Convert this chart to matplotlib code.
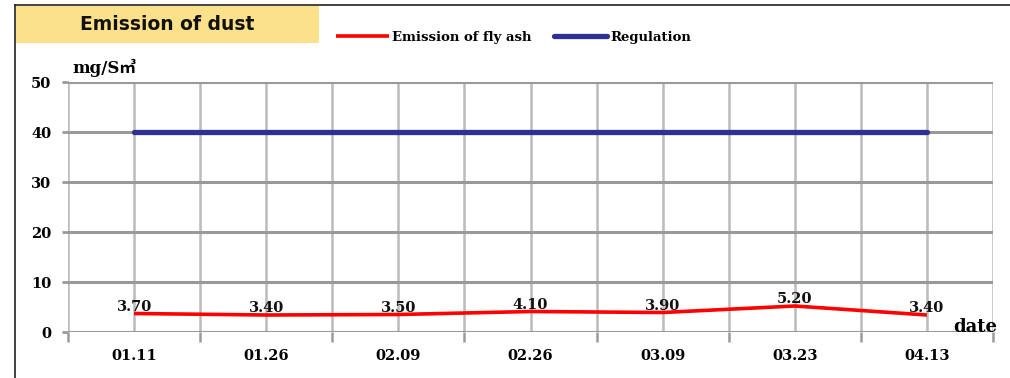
import matplotlib.pyplot as plt
from matplotlib.lines import Line2D
from matplotlib.patches import Rectangle

# measurement dates and values
dates = ["01.11", "01.26", "02.09", "02.26", "03.09", "03.23", "04.13"]
fly_ash = [3.70, 3.40, 3.50, 4.10, 3.90, 5.20, 3.40]
regulation = [40, 40, 40, 40, 40, 40, 40]
y_ticks = [0, 10, 20, 30, 40, 50]

serif = ["DejaVu Serif", "Noto Sans CJK KR"]

fig = plt.figure(figsize=(10.1, 3.78), dpi=100)
ax = fig.add_axes([68 / 1010, 1 - 332 / 378, 925 / 1010, 250 / 378])

x = list(range(len(dates)))
ax.plot(x, fly_ash, color="#ff0000", lw=2.6, solid_capstyle="butt",
        label="Emission of fly ash", zorder=4)
ax.plot(x, regulation, color="#2e3192", lw=3.8, solid_capstyle="round",
        label="Regulation", zorder=4)

for xi, v in zip(x, fly_ash):
    ax.annotate(f"{v:.2f}", (xi, v), xytext=(0, 5), textcoords="offset points",
                ha="center", va="center", fontsize=10.5, fontweight="bold",
                family=serif, color="#111111", zorder=5)

ax.set_xlim(-0.5, len(dates) - 0.5)
ax.set_ylim(0, 50)
ax.set_yticks(y_ticks)
ax.set_yticklabels([str(t) for t in y_ticks], fontsize=10.5, fontweight="bold", family=serif)
ax.set_xticks(x)
ax.set_xticklabels(dates, fontsize=10.5, fontweight="bold", family=serif)
ax.set_xticks([i - 0.5 for i in range(len(dates) + 1)], minor=True)

# grid: darker horizontal lines, lighter vertical lines at centres and boundaries
ax.grid(False)
for t in y_ticks:
    ax.axhline(t, color="#999999", lw=2.2, zorder=1)
for xv in [i * 0.5 - 0.5 for i in range(2 * len(dates) + 1)]:
    ax.axvline(xv, color="#bbbbbb", lw=1.8, zorder=0.9)

for s in ax.spines.values():
    s.set_visible(False)
ax.tick_params(axis="x", which="major", length=0, pad=12)
ax.tick_params(axis="x", which="minor", length=7, width=1.8, color="#999999")
ax.tick_params(axis="y", length=4, width=2, color="#999999", pad=8)

ax.text(0.005, 1.02, "mg/S㎥", transform=ax.transAxes, fontsize=12,
        fontweight="bold", family=serif, ha="left", va="bottom")
ax.text(1.005, 0.02, "date", transform=ax.transAxes, fontsize=13,
        fontweight="bold", family=serif, ha="right", va="center")

# outer frame and title box
fig.add_artist(Line2D([15 / 1010, 15 / 1010], [0, 1 - 5 / 378],
                      transform=fig.transFigure, color="#222222", lw=1.2))
fig.add_artist(Line2D([15 / 1010, 1], [1 - 5 / 378, 1 - 5 / 378],
                      transform=fig.transFigure, color="#222222", lw=1.2))
fig.add_artist(Rectangle((15.5 / 1010, 1 - 43 / 378), 303 / 1010, 37 / 378,
                         transform=fig.transFigure, facecolor="#fbe28a",
                         edgecolor="none", zorder=0))
fig.text(167 / 1010, 1 - 25 / 378, "Emission of dust", fontsize=13.5,
         fontweight="heavy", ha="center", va="center", color="#111111")

fig.legend(loc="center left", bbox_to_anchor=(336 / 1010, 1 - 37 / 378),
           ncol=2, frameon=False, handlelength=4.0, handletextpad=0.25,
           columnspacing=1.7, borderaxespad=0, borderpad=0,
           prop={"family": serif, "weight": "bold", "size": 9.5})

fig.savefig("out.png", dpi=100)
